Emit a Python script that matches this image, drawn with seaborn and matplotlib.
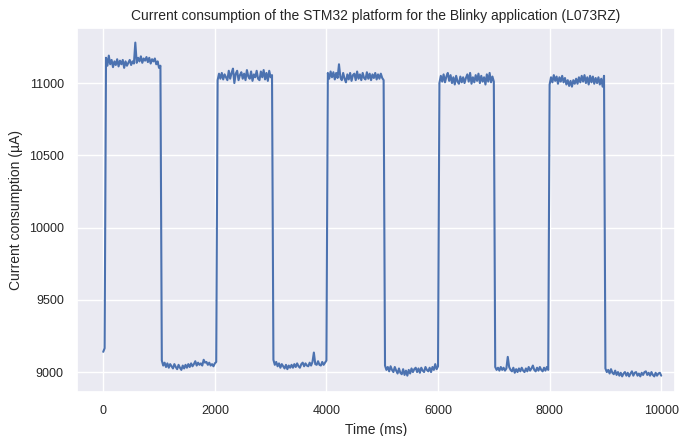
import numpy as np
import pandas as pd
import seaborn as sns
import matplotlib.pyplot as plt

# values, one sample every 25 ms
pre = [9140, 9165]
high1 = [11175, 11120, 11190, 11130, 11160, 11110, 11150, 11125, 11165, 11115, 11155, 11130, 11160, 11105, 11150, 11120, 11140, 11160, 11125, 11150,
         11135, 11280, 11140, 11175, 11150, 11185, 11140, 11170, 11155, 11180, 11145, 11175, 11135, 11165, 11150, 11170, 11130, 11150, 11105, 11120]
low1 = [9080, 9045, 9065, 9035, 9060, 9030, 9055, 9040, 9025, 9055, 9035, 9020, 9050, 9030, 9015, 9045, 9025, 9050, 9030, 9055,
        9035, 9060, 9040, 9055, 9075, 9045, 9065, 9050, 9060, 9045, 9085, 9065, 9070, 9050, 9065, 9045, 9055, 9040, 9060, 9070]
high2 = [11020, 11065, 11030, 11070, 11025, 11060, 11040, 11020, 11085, 11030, 11070, 11100, 11000, 11065, 11085, 11020, 11055, 11075, 11030, 11065,
         11020, 11090, 11045, 11030, 11080, 11015, 11060, 11040, 11085, 11030, 11020, 11080, 11040, 11090, 11025, 11070, 11015, 11085, 11040, 11055]
low2 = [9085, 9050, 9070, 9040, 9060, 9030, 9055, 9040, 9025, 9050, 9020, 9045, 9030, 9050, 9030, 9055, 9035, 9060, 9040, 9030,
        9055, 9065, 9040, 9060, 9045, 9040, 9065, 9045, 9070, 9135, 9055, 9050, 9075, 9050, 9045, 9070, 9050, 9065, 9080]
high3 = [11070, 11030, 11080, 11040, 11075, 11025, 11070, 11035, 11130, 11040, 11020, 11070, 11030, 11005, 11060, 11025, 11070, 11015, 11055, 11065,
         11020, 11080, 11030, 11060, 11020, 11070, 11035, 11025, 11075, 11030, 11065, 11020, 11060, 11035, 11070, 11025, 11060, 11030, 11065, 11035, 11020]
low3 = [9045, 9015, 9035, 9005, 9040, 9015, 9000, 9035, 9010, 8990, 9025, 8995, 8985, 9020, 8980, 9010, 8975, 9015, 8990, 9025,
        9000, 9020, 9030, 9000, 9025, 8995, 9030, 9010, 9000, 9035, 9015, 9005, 9030, 9000, 9035, 9015, 9055, 9020, 9040]
high4 = [11000, 11050, 11010, 11060, 11005, 11045, 11070, 11015, 11055, 11000, 11040, 10990, 11050, 11010, 10995, 11045, 11005, 11040, 11000, 11035,
         11060, 11010, 11070, 10995, 11040, 11005, 11055, 11015, 11065, 11000, 11050, 11010, 11040, 10990, 11060, 11010, 11070, 11005, 11045, 11010]
low4 = [9035, 9015, 9030, 9010, 9035, 9015, 9030, 9010, 9025, 9105, 9035, 9015, 9005, 9030, 8995, 9020, 9000, 9025, 9005, 9030,
        9010, 9000, 9025, 9005, 9035, 9010, 9025, 9045, 9015, 9005, 9030, 9010, 9035, 9015, 9005, 9030, 9010, 9035, 9015]
high5 = [10990, 11040, 11005, 11055, 11015, 11045, 10995, 11040, 11010, 11050, 11005, 11035, 10990, 11020, 10980, 11015, 10975, 11020, 10995, 11030,
         10995, 11040, 11005, 11050, 11010, 11055, 11000, 11040, 10990, 11050, 11005, 11045, 10995, 11035, 11000, 11040, 10990, 11030, 10975, 11050]
low5 = [9025, 9000, 9015, 8990, 9020, 8995, 8985, 9010, 8980, 9000, 8975, 8995, 8970, 8990, 9000, 8975, 8995, 8970, 8990, 9005,
        8975, 8995, 9000, 8975, 8990, 8970, 8995, 8980, 9000, 9005, 8980, 8995, 8975, 9000, 8980, 8970, 8995, 8975, 8990, 8995, 8975]

current = pre + high1 + low1 + high2 + low2 + high3 + low3 + high4 + low4 + high5 + low5
sample_ms = 25
time = np.arange(len(current)) * sample_ms

df = pd.DataFrame({'Time (ms)': time, 'Current consumption (µA)': current})

sns.set_theme(style='darkgrid')
plt.rcParams['font.family'] = ['Liberation Sans', 'DejaVu Sans']

fig = plt.figure(figsize=(6.83, 4.36), dpi=100)
ax = fig.add_axes([77/683, 44/436, 598/683, 364/436])
sns.lineplot(data=df, x='Time (ms)', y='Current consumption (µA)', ax=ax, linewidth=1.5)
ax.set_title('Current consumption of the STM32 platform for the Blinky application (L073RZ)', fontsize=10)
ax.set_xlabel('Time (ms)', fontsize=10)
ax.set_ylabel('Current consumption (µA)', fontsize=10)
ax.tick_params(labelsize=9)
ax.set_xlim(-470, 10247)
ax.set_ylim(8862, 11381)
ax.set_xticks([0, 2000, 4000, 6000, 8000, 10000])
ax.set_yticks([9000, 9500, 10000, 10500, 11000])

fig.savefig('out.png', dpi=100)
